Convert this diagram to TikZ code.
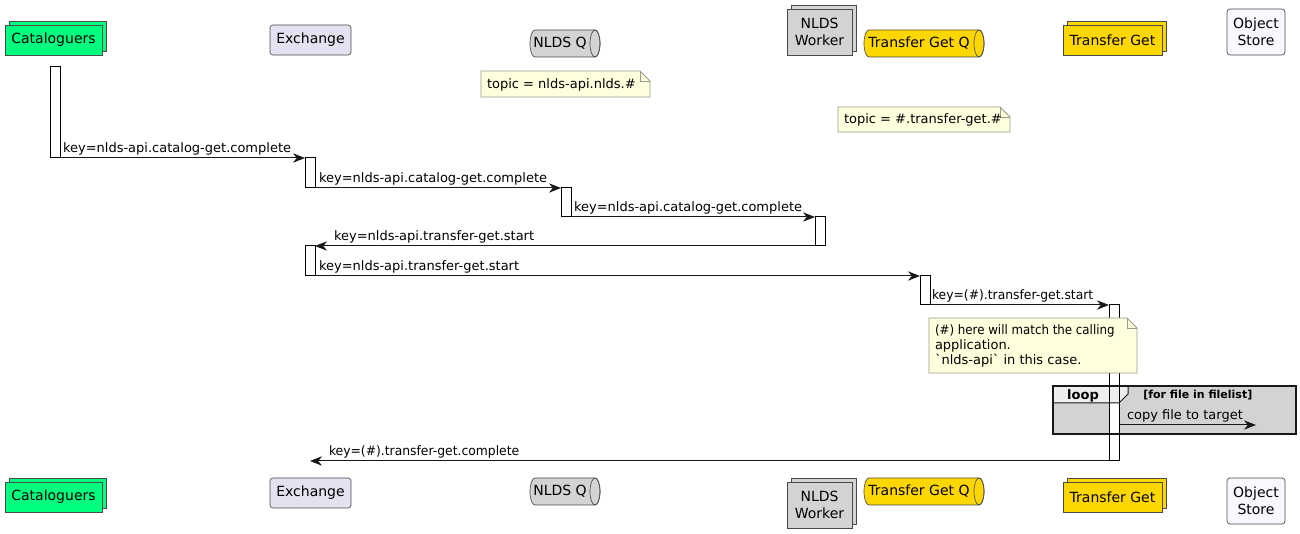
\documentclass[tikz,border=0pt]{standalone}
\usepackage{fontspec}
\setmainfont{DejaVu Sans}[Ligatures=TeXOff]
\usetikzlibrary{arrows.meta,shadows,fit,calc,backgrounds}
\definecolor{catg}{HTML}{00FF7F}
\definecolor{exch}{HTML}{E2E2F0}
\definecolor{nlg}{HTML}{D3D3D3}
\definecolor{goldc}{HTML}{FFD700}
\definecolor{objw}{HTML}{F8F8FF}
\definecolor{notey}{HTML}{FEFFDD}
\definecolor{noteb}{HTML}{9A9A8A}
\definecolor{lifec}{HTML}{808080}
\definecolor{msgc}{HTML}{181818}
\definecolor{tabg}{HTML}{EEEEEE}
\definecolor{pbord}{HTML}{4A4A4A}
\newcommand\drawcyl[2]{%
  \draw[fill=#2, draw=pbord, line width=0.5pt]
    ($(#1.north west)+(5,0)$) -- ($(#1.north east)+(-5,0)$)
    arc[start angle=90, end angle=-90, x radius=3.75pt, y radius=10.125pt]
    -- ($(#1.south west)+(5,0)$)
    arc[start angle=270, end angle=90, x radius=3.75pt, y radius=10.125pt] -- cycle;
  \draw[draw=pbord, line width=0.5pt] ($(#1.east)+(-5,0)$) ellipse [x radius=3.75pt, y radius=10.125pt];
}
\newcommand\drawnote[1]{%
  \draw[fill=notey, draw=noteb, line width=0.6pt]
    (#1.north west) -- ($(#1.north east)+(-10,0)$) -- ($(#1.north east)+(0,10)$)
    -- (#1.south east) -- (#1.south west) -- cycle;
  \draw[draw=noteb, line width=0.6pt] ($(#1.north east)+(-10,0)$) -- ($(#1.north east)+(-10,10)$) -- ($(#1.north east)+(0,10)$);
}
\begin{document}
\begin{tikzpicture}[x=0.75pt, y=-0.75pt,
  ptext/.style={inner sep=0pt, outer sep=0pt, font=\fontsize{10.5}{12.4}\selectfont, align=center},
  frame/.style={inner sep=0pt, outer sep=0pt},
  pbox/.style={frame, draw=pbord, line width=0.5pt},
  collshadow/.style={copy shadow={shadow xshift=3pt, shadow yshift=3pt, fill=#1, draw=pbord, line width=0.5pt}},
  bar/.style={draw=black, fill=white, line width=0.75pt, inner sep=0pt, outer sep=0pt},
  msg/.style={draw=msgc, line width=0.75pt, -{Stealth[length=9pt, width=7pt, inset=2.8pt]}},
  lbl/.style={anchor=base west, inner sep=0pt, outer sep=0pt, font=\fontsize{9.75}{11.6}\selectfont, text=black},
  life/.style={draw=lifec, line width=0.6pt, dash pattern=on 3.75pt off 3.75pt},
]
\fill[white] (0,0) rectangle (1300,534);
\useasboundingbox (0,0) rectangle (1300,534);

% ---------- top participants ----------
\node[pbox, fill=catg, collshadow=catg, fit={(5,25)(102,55)}] (cat) {};
\node[ptext] (catt) at (cat.center) {Cataloguers};
\node[pbox, rounded corners=2.25pt, fill=exch, fit={(270,25)(351,55)}] (ex) {};
\node[ptext] (ext) at (ex.center) {Exchange};
\node[frame, fit={(530,30)(600,57)}] (nq) {};
\drawcyl{nq}{nlg}
\node[ptext, xshift=-3.75pt] (nqt) at (nq.center) {NLDS Q};
\node[pbox, fill=nlg, collshadow=nlg, fit={(787,9)(852,55)}] (wk) {};
\node[ptext] (wkt) at (wk.center) {NLDS\\Worker};
\node[frame, fit={(864,30)(984,57)}] (tq) {};
\drawcyl{tq}{goldc}
\node[ptext, xshift=-3.75pt] (tqt) at (tq.center) {Transfer Get Q};
\node[pbox, fill=goldc, collshadow=goldc, fit={(1063,25)(1162,55)}] (tg) {};
\node[ptext] (tgt) at (tg.center) {Transfer Get};
\node[pbox, rounded corners=2.25pt, fill=objw, fit={(1227,9)(1285,55)}] (os) {};
\node[ptext] (ost) at (os.center) {Object\\Store};

% ---------- bottom participants ----------
\node[pbox, fill=catg, collshadow=catg, fit={(5,482)(102,512)}] (catb) {};
\node[ptext] (catbt) at (catb.center) {Cataloguers};
\node[pbox, rounded corners=2.25pt, fill=exch, fit={(270,478)(351,508)}] (exb) {};
\node[ptext] (exbt) at (exb.center) {Exchange};
\node[frame, fit={(530,478)(600,505)}] (nqb) {};
\drawcyl{nqb}{nlg}
\node[ptext, xshift=-3.75pt] (nqbt) at (nqb.center) {NLDS Q};
\node[pbox, fill=nlg, collshadow=nlg, fit={(787,482)(852,528)}] (wkb) {};
\node[ptext] (wkbt) at (wkb.center) {NLDS\\Worker};
\node[frame, fit={(864,478)(984,505)}] (tqb) {};
\drawcyl{tqb}{goldc}
\node[ptext, xshift=-3.75pt] (tqbt) at (tqb.center) {Transfer Get Q};
\node[pbox, fill=goldc, collshadow=goldc, fit={(1063,482)(1162,512)}] (tgb) {};
\node[ptext] (tgbt) at (tgb.center) {Transfer Get};
\node[pbox, rounded corners=2.25pt, fill=objw, fit={(1227,478)(1285,524)}] (osb) {};
\node[ptext] (osbt) at (osb.center) {Object\\Store};

% ---------- lifelines ----------
\begin{scope}[on background layer]
  \draw[life] ([xshift=1.5pt]cat.south) -- ([xshift=1.5pt, yshift=3pt]catb.north);
  \draw[life] (ex.south) -- (exb.north);
  \draw[life] (nq.south) -- (nqb.north);
  \draw[life] ([xshift=0.5pt]wk.south) -- ([xshift=0.5pt, yshift=3pt]wkb.north);
  \draw[life] (tq.south) -- (tqb.north);
  \draw[life] ([xshift=1.5pt]tg.south) -- ([xshift=1.5pt, yshift=3pt]tgb.north);
  \draw[life] (os.south) -- (osb.north);
\end{scope}

% ---------- notes ----------
\node[frame, fit={(481,71)(650,97)}] (n1) {};
\drawnote{n1}
\node[lbl] (n1t) at (487,89) {topic = nlds-api.nlds.\#};
\node[frame, fit={(838,107)(1010,132)}] (n2) {};
\drawnote{n2}
\node[lbl] (n2t) at (844,124) {topic = \#.transfer-get.\#};

% ---------- activation bars ----------
\node[bar, fit={(50,67)(60,158)}] (a1) {};
\node[bar, fit={(305,158)(315,188)}] (e1) {};
\node[bar, fit={(561,188)(571,217)}] (q1) {};
\node[bar, fit={(815,217)(825,246)}] (w1) {};
\node[bar, fit={(305,246)(315,276)}] (e2) {};
\node[bar, fit={(920,276)(930,305)}] (t1) {};

% ---------- loop frame (background part) and Transfer Get bar ----------
\node[frame, fill=nlg, fit={(1053,386)(1296,434)}] (loop) {};
\node[bar, fit={(1109,305)(1119,461)}] (g1) {};

% ---------- note 3 (over the bar) ----------
\node[frame, fit={(929,318)(1137,373)}] (n3) {};
\drawnote{n3}
\node[lbl] (n3a) at (935,335) {\scalebox{0.91}[1]{(\#) here will match the calling}};
\node[lbl] (n3b) at (935,350) {application.};
\node[lbl] (n3c) at (935,365) {`nlds-api` in this case.};

% ---------- loop tab and border ----------
\fill[tabg] (loop.north west) -- (1128,386) -- (1128,394) -- (1119,403) -- (1053,403) -- cycle;
\draw[msgc, line width=0.75pt] (1128,386) -- (1128,394) -- (1119,403) -- (1053,403);
\draw[black, line width=0.75pt] (1109,386) -- (1109,403) (1119,386) -- (1119,403);
\draw[msgc, line width=1.5pt] (loop.north west) rectangle (loop.south east);
\node[anchor=base, inner sep=0pt, font=\bfseries\fontsize{9.75}{11.6}\selectfont] (looplbl) at (1083,400) {loop};
\node[anchor=base west, inner sep=0pt, font=\bfseries\fontsize{8.25}{10}\selectfont] (loopcond) at (1143,399) {[for file in filelist]};

% ---------- messages ----------
\draw[msg] (a1.south east) -- (e1.north west);
\node[lbl] (m1) at (63,153) {key=nlds-api.catalog-get.complete};
\draw[msg] (e1.south east) -- (q1.north west);
\node[lbl] (m2) at (319,183) {key=nlds-api.catalog-get.complete};
\draw[msg] (q1.south east) -- (w1.north west);
\node[lbl] (m3) at (574,212) {key=nlds-api.catalog-get.complete};
\draw[msg] (w1.south west) -- (e2.north east);
\node[lbl] (m4) at (334,241) {key=nlds-api.transfer-get.start};
\draw[msg] (e2.south east) -- (t1.north west);
\node[lbl] (m5) at (319,271) {key=nlds-api.transfer-get.start};
\draw[msg] (t1.south east) -- (g1.north west);
\node[lbl] (m6) at (932,300) {\scalebox{0.95}[1]{key=(\#).transfer-get.start}};
\coordinate (osl) at (1256,425);
\draw[msg] (g1.east |- osl) -- (osl);
\node[lbl] (m7) at (1127,420) {copy file to target};
\coordinate (exl) at (310,461);
\draw[msg] (g1.south west) -- (exl);
\node[lbl] (m8) at (329,456) {\scalebox{0.95}[1]{key=(\#).transfer-get.complete}};
\end{tikzpicture}
\end{document}
